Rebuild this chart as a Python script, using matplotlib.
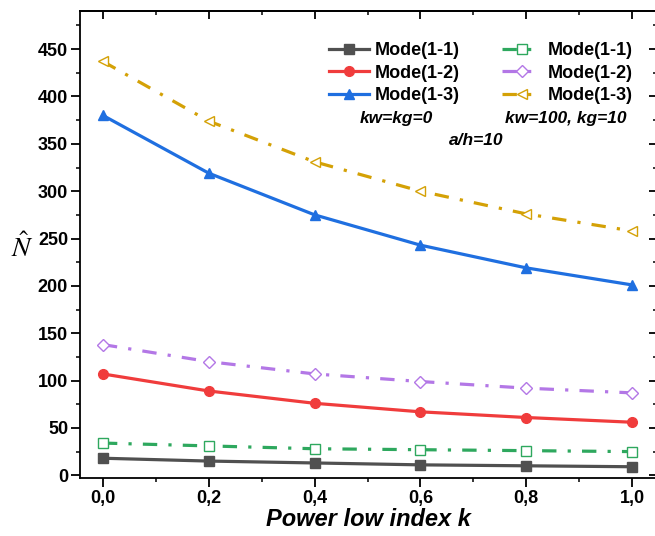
import matplotlib
matplotlib.use("Agg")
import matplotlib.pyplot as plt
from matplotlib.ticker import MultipleLocator, FuncFormatter

plt.rcParams['font.family'] = ['Liberation Sans', 'DejaVu Sans']
plt.rcParams['mathtext.fontset'] = 'stix'

# Power-law index
k = [0.0, 0.2, 0.4, 0.6, 0.8, 1.0]

# kw = kg = 0
mode11_free = [18, 15, 13, 11, 10, 9]
mode12_free = [107, 89, 76, 67, 61, 56]
mode13_free = [380, 319, 275, 243, 219, 201]

# kw = 100, kg = 10
mode11_found = [34, 31, 28, 27, 26, 25]
mode12_found = [138, 120, 107, 99, 92, 87]
mode13_found = [437, 374, 331, 300, 276, 258]

labels = ["Mode(1-1)", "Mode(1-2)", "Mode(1-3)"]

fig = plt.figure(figsize=(6.55, 5.36), dpi=100)
ax = fig.add_axes([0.122, 0.108, 0.881, 0.871])

lw = 2.3
ms = 6.5
h1, = ax.plot(k, mode11_free, '-', color='#505050', lw=lw, marker='s', ms=ms, label=labels[0])
h2, = ax.plot(k, mode12_free, '-', color='#f03c3c', lw=lw, marker='o', ms=ms + 0.5, label=labels[1])
h3, = ax.plot(k, mode13_free, '-', color='#1f6fe0', lw=lw, marker='^', ms=ms + 0.5, label=labels[2])

dd = (0, (4.5, 3.5, 1, 3.5))
h4, = ax.plot(k, mode11_found, linestyle=dd, color='#2ea85e', lw=lw, marker='s', ms=ms,
              mfc='white', mec='#2ea85e', mew=1.0, label=labels[0])
h5, = ax.plot(k, mode12_found, linestyle=dd, color='#b377e6', lw=lw, marker='D', ms=ms - 0.5,
              mfc='white', mec='#b377e6', mew=1.0, label=labels[1])
h6, = ax.plot(k, mode13_found, linestyle=dd, color='#d4a106', lw=lw, marker='<', ms=ms + 0.5,
              mfc='white', mec='#d4a106', mew=1.0, label=labels[2])

ax.set_xlim(-0.0435, 1.047)
ax.set_ylim(-3, 490)
ax.xaxis.set_major_locator(MultipleLocator(0.2))
ax.xaxis.set_minor_locator(MultipleLocator(0.1))
ax.yaxis.set_major_locator(MultipleLocator(50))
ax.yaxis.set_minor_locator(MultipleLocator(25))
ax.xaxis.set_major_formatter(FuncFormatter(lambda v, p: f"{v:.1f}".replace('.', ',')))

ax.tick_params(axis='both', which='major', direction='out', length=6.5, width=1.3,
               labelsize=13, top=False, right=False, pad=2)
ax.tick_params(axis='both', which='minor', direction='out', length=3, width=1.1,
               top=False, right=False)
for lab in ax.get_xticklabels() + ax.get_yticklabels():
    lab.set_fontweight('bold')

# Inward ticks on the top and right edges
axt = ax.secondary_xaxis('top')
axt.xaxis.set_major_locator(MultipleLocator(0.2))
axt.xaxis.set_minor_locator(MultipleLocator(0.1))
axt.tick_params(which='major', direction='in', length=6, width=1.3, labeltop=False)
axt.tick_params(which='minor', direction='in', length=3, width=1.1)
axr = ax.secondary_yaxis('right')
axr.yaxis.set_major_locator(MultipleLocator(50))
axr.yaxis.set_minor_locator(MultipleLocator(25))
axr.tick_params(which='major', direction='in', length=6, width=1.3, labelright=False)
axr.tick_params(which='minor', direction='in', length=3, width=1.1)
for s in ax.spines.values():
    s.set_linewidth(1.3)
axt.spines['top'].set_linewidth(1.3)
axr.spines['right'].set_linewidth(1.3)

ax.set_xlabel("Power low index k", fontsize=17, fontweight='bold', style='italic', labelpad=1)
ax.set_ylabel(r"$\hat{N}$", fontsize=20, rotation=0, labelpad=14)
ax.yaxis.set_label_coords(-0.1, 0.46)

leg = ax.legend(handles=[h1, h2, h3, h4, h5, h6], ncol=2, frameon=False,
                prop={'weight': 'bold', 'size': 13}, handlelength=2.2,
                handletextpad=0.35, columnspacing=2.3, labelspacing=0.3,
                borderpad=0.3, borderaxespad=0,
                loc='upper right', bbox_to_anchor=(0.9675, 0.945))

ax.text(0.549, 0.771, "kw=kg=0", transform=ax.transAxes, fontsize=12.5,
        fontweight='bold', style='italic', ha='center', va='center')
ax.text(0.842, 0.771, "kw=100, kg=10", transform=ax.transAxes, fontsize=12.5,
        fontweight='bold', style='italic', ha='center', va='center')
ax.text(0.686, 0.724, "a/h=10", transform=ax.transAxes, fontsize=12.5,
        fontweight='bold', style='italic', ha='center', va='center')

fig.savefig("out.png", dpi=100)
